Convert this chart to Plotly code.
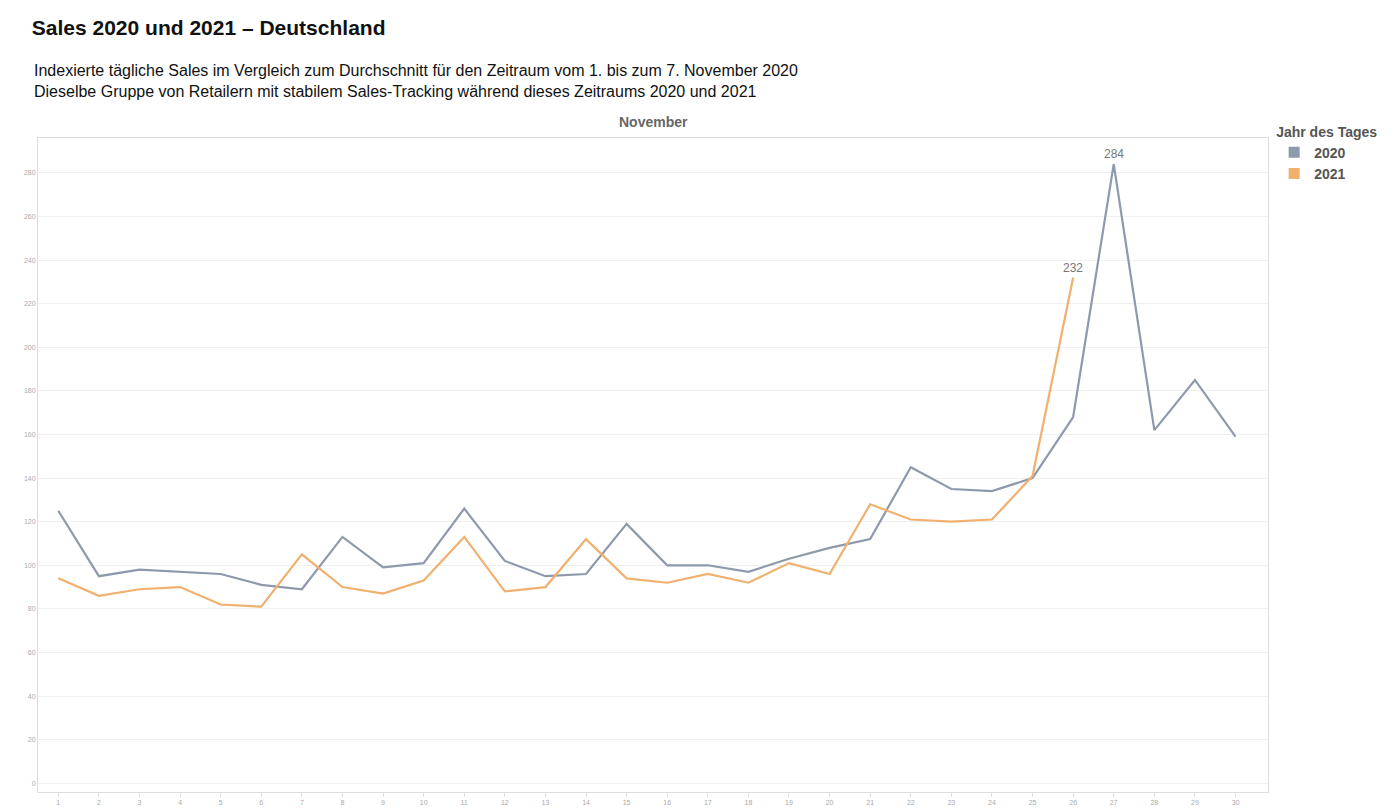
import plotly.graph_objects as go

days = list(range(1, 31))
sales_2020 = [125, 95, 98, 97, 96, 91, 89, 113, 99, 101, 126, 102, 95, 96, 119, 100, 100, 97, 103, 108, 112, 145, 135, 134, 140, 168, 284, 162, 185, 159]
days_2021 = list(range(1, 27))
sales_2021 = [94, 86, 89, 90, 82, 81, 105, 90, 87, 93, 113, 88, 90, 112, 94, 92, 96, 92, 101, 96, 128, 121, 120, 121, 141, 232]
y_ticks = list(range(0, 281, 20))

c20 = "#8E99AB"
c21 = "#F0B06E"

fig = go.Figure()
fig.add_trace(go.Scatter(x=days, y=sales_2020, mode="lines", name="2020", showlegend=False,
                         line=dict(color=c20, width=2.2)))
fig.add_trace(go.Scatter(x=days_2021, y=sales_2021, mode="lines", name="2021", showlegend=False,
                         line=dict(color=c21, width=2.2)))
for nm, c in (("2020", c20), ("2021", c21)):
    fig.add_trace(go.Scatter(x=[None], y=[None], mode="markers", name=f"<b>{nm}</b>",
                             marker=dict(symbol="square", size=11, color=c)))
fig.add_annotation(x=27, y=max(sales_2020), text=str(max(sales_2020)), showarrow=False,
                   yshift=10, font=dict(color="#777", size=12))
fig.add_annotation(x=26, y=max(sales_2021), text=str(max(sales_2021)), showarrow=False,
                   yshift=10, font=dict(color="#777", size=12))

fig.update_layout(
    width=1400, height=810, plot_bgcolor="white", paper_bgcolor="white",
    font=dict(family="Liberation Sans, Arial", color="#222"),
    margin=dict(l=30, r=140, t=130, b=22),
    title=dict(text="<b>Sales 2020 und 2021 – Deutschland</b>", x=0.017, y=0.985,
               yanchor="top", xanchor="left", font=dict(size=21, color="#111")),
    legend=dict(title=dict(text="<b>Jahr des Tages</b>", font=dict(size=14, color="#555")),
                x=1.005, y=1.03, xanchor="left", yanchor="top", tracegroupgap=0,
                font=dict(size=14, color="#555"), itemwidth=30),
    xaxis=dict(range=[0.5, 30.8], tickmode="array", tickvals=days, showgrid=False,
               tickfont=dict(size=7, color="#aaa"), showline=True, linecolor="#ddd",
               zeroline=False, ticks="outside", tickcolor="#ddd", ticklen=4, mirror=True),
    yaxis=dict(range=[-4, 296], tickvals=y_ticks, gridcolor="#f0f0f0",
               tickfont=dict(size=7, color="#aaa"), showline=True, linecolor="#ddd",
               zeroline=False, mirror=True),
)
fig.add_annotation(xref="paper", yref="paper", x=-0.005, y=1.055, xanchor="left", yanchor="bottom",
                   align="left", showarrow=False, font=dict(size=16, color="#111"),
                   text="Indexierte tägliche Sales im Vergleich zum Durchschnitt für den Zeitraum vom 1. bis zum 7. November 2020<br>Dieselbe Gruppe von Retailern mit stabilem Sales-Tracking während dieses Zeitraums 2020 und 2021")
fig.add_annotation(xref="paper", yref="paper", x=0.5, y=1.0, yanchor="bottom", showarrow=False,
                   text="<b>November</b>", font=dict(size=14, color="#666"), yshift=6)
fig.write_html("out.html")
